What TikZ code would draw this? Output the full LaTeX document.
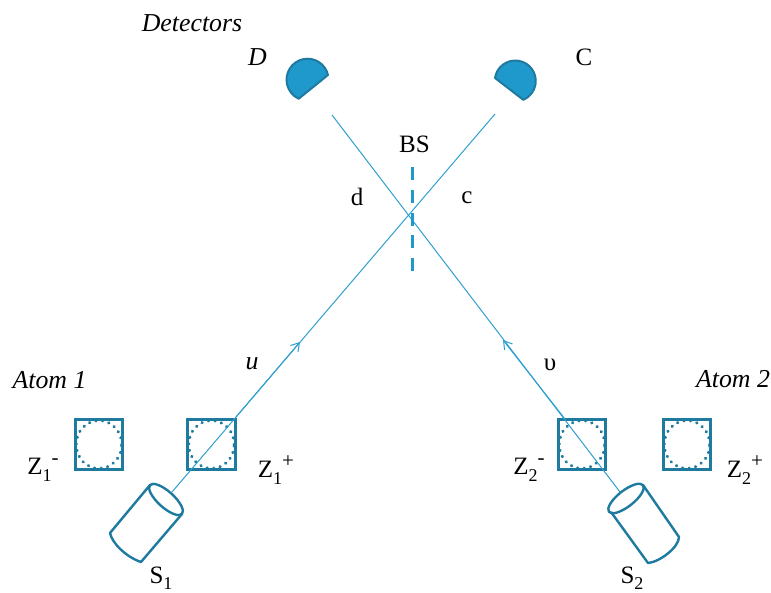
\documentclass[tikz,border=0pt]{standalone}
\usepackage{fontspec}
\setmainfont{Liberation Serif}
\usetikzlibrary{arrows.meta}
\definecolor{beam}{HTML}{2E9FCF}
\definecolor{dark}{HTML}{1F7A9F}
\definecolor{fillb}{HTML}{1F99CC}
\newcommand\lowsub[1]{\raisebox{-0.26em}{\fontsize{18}{18}\selectfont #1}}
\newcommand\upsup[1]{\raisebox{0.4em}{\fontsize{21}{21}\selectfont #1}}
\tikzset{
  x=1pt,y=1pt,
  lab/.style={inner sep=0pt,font=\fontsize{25}{25}\selectfont,text=black},
  ital/.style={lab,font=\fontsize{25.8}{25.8}\selectfont\itshape},
  beamline/.style={draw=beam,line width=1pt},
  sq/.style={draw=dark,line width=2.6pt,minimum width=47.5pt,minimum height=50.5pt,inner sep=0pt},
  dotc/.style={draw=dark,line width=3.2pt,line cap=round,dash pattern=on 0.3pt off 6.3pt},
  cyl/.style={draw=dark,line width=2.4pt,line join=round},
  det/.style={draw=dark,fill=fillb,line width=2pt,line join=round},
  tip/.style={-{Straight Barb[length=8pt,width=10pt,line width=1pt]}}
}
\begin{document}
\begin{tikzpicture}
\useasboundingbox (0,0) rectangle (771,592);
% beam end points
\coordinate (s1) at (172,100);
\coordinate (c1) at (495,478);
\coordinate (s2) at (620,100);
\coordinate (d1) at (332,477);
\coordinate (t1) at (300,250);
\coordinate (t2) at (503,252);
\coordinate (m1) at (236,175);
\coordinate (m2) at (565,173);
% boxes
\node[sq] (zam) at (99,147.5) {};
\node[sq] (zap) at (211.5,147.5) {};
\node[sq] (zbm) at (582,147.5) {};
\node[sq] (zbp) at (687,147.5) {};
\foreach \n in {zam,zap,zbm,zbp}{
  \draw[dotc] (\n.center) ellipse[x radius=22.8pt,y radius=24pt];
}
% beams
\draw[beamline] (s1) -- (c1);
\draw[beamline] (s2) -- (d1);
\draw[beamline,tip] (m1) -- (t1);
\draw[beamline,tip] (m2) -- (t2);
% beam splitter
\coordinate (bst) at (412.5,425);
\coordinate (bsb) at (412.5,321);
\draw[draw=fillb,line width=2.8pt,dash pattern=on 13pt off 9.8pt] (bst) -- (bsb);
% detectors
\coordinate (da) at (328,517);
\draw[det] (da) arc (13:245:21pt) -- cycle;
\coordinate (ca) at (495,514);
\draw[det] (ca) arc (171.5:-66.8:20.5pt) -- cycle;
% sources
\coordinate (e1) at (166,92.5);
\draw[cyl] (e1) ellipse[x radius=21.6pt,y radius=8pt,rotate=-42];
\draw[cyl] (150,107) -- (110,59) .. controls (112,49) and (126,35) .. (141,30) -- (182,78);
\coordinate (e2) at (626,93.5);
\draw[cyl] (e2) ellipse[x radius=21.7pt,y radius=8pt,rotate=38];
\draw[cyl] (643,107) -- (679,55) .. controls (679,45) and (660,30) .. (648,29) -- (611,80);
% labels
\node[ital] (ldet) at (192,569) {Detectors};
\node[ital] (lD) at (257.5,535) {D};
\node[lab] (lC) at (584,535) {C};
\node[lab] (lBS) at (414.5,448) {BS};
\node[lab] (ld) at (357,395) {d};
\node[lab] (lc) at (467,394) {c};
\node[ital] (lu) at (252,228) {u};
\node[lab] (lv) at (550,227) {υ};
\node[ital] (la1) at (49.5,212) {Atom 1};
\node[ital] (la2) at (733,213) {Atom 2};
\node[lab] (lz1m) at (43,122) {Z\lowsub{1}\upsup{-}};
\node[lab] (lz1p) at (276,122) {Z\lowsub{1}\upsup{+}};
\node[lab] (lz2m) at (529,122) {Z\lowsub{2}\upsup{-}};
\node[lab] (lz2p) at (745,122) {Z\lowsub{2}\upsup{+}};
\node[lab] (ls1) at (161,14) {S\lowsub{1}};
\node[lab] (ls2) at (632,14) {S\lowsub{2}};
\end{tikzpicture}
\end{document}
